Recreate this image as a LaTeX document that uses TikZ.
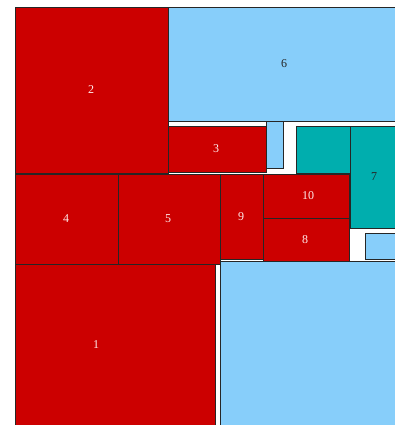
\documentclass[tikz,border=0pt]{standalone}
\usepackage{fontspec}
\setmainfont{Liberation Serif}
\usetikzlibrary{fit}
\definecolor{cred}{RGB}{204,0,0}
\definecolor{cblue}{RGB}{135,206,250}
\definecolor{cteal}{RGB}{0,174,174}
\tikzset{
  box/.style={draw=black!85, line width=0.9pt, inner sep=0pt, outer sep=0pt},
  redbox/.style={box, fill=cred},
  bluebox/.style={box, fill=cblue},
  tealbox/.style={box, fill=cteal},
  lab/.style={font=\fontsize{12}{14}\selectfont, inner sep=0pt},
  rlab/.style={lab, text=white!92!red},
  dlab/.style={lab, text=black!85}
}
\begin{document}
\begin{tikzpicture}[x=1pt,y=-1pt]
\useasboundingbox[fill=white] (0,0) rectangle (395,425);
\begin{scope}
\clip (0,0) rectangle (395,425);
% top row
\node[redbox, fit={(15,7)(168,173)}] (r2) {};
\node[bluebox, fit={(168,7)(400,121)}] (r6) {};
\node[redbox, fit={(168,126)(266,172)}] (r3) {};
\node[bluebox, fit={(266,121)(283,168)}] (s1) {};
\node[tealbox, fit={(296,126)(352,173)}] (t1) {};
\node[tealbox, fit={(350,126)(400,228)}] (r7) {};
% middle row
\node[redbox, fit={(15,174)(118,264)}] (r4) {};
\node[redbox, fit={(118,174)(220,264)}] (r5) {};
\node[redbox, fit={(220,174)(263,259)}] (r9) {};
\node[redbox, fit={(263,174)(349,218)}] (r10) {};
\node[redbox, fit={(263,218)(349,261)}] (r8) {};
\node[bluebox, fit={(365,233)(400,259)}] (s2) {};
% bottom row
\node[redbox, fit={(15,264)(215,430)}] (r1) {};
\node[bluebox, fit={(220,261)(400,430)}] (b1) {};
\end{scope}
% labels
\node[rlab] at (91,90) {2};
\node[dlab] at (284,64) {6};
\node[rlab] at (216,149) {3};
\node[dlab] at (374,177) {7};
\node[rlab] at (66,219) {4};
\node[rlab] at (168,219) {5};
\node[rlab] at (241,217) {9};
\node[rlab] at (308,196) {10};
\node[rlab] at (305,240) {8};
\node[rlab] at (96,345) {1};
\end{tikzpicture}
\end{document}
